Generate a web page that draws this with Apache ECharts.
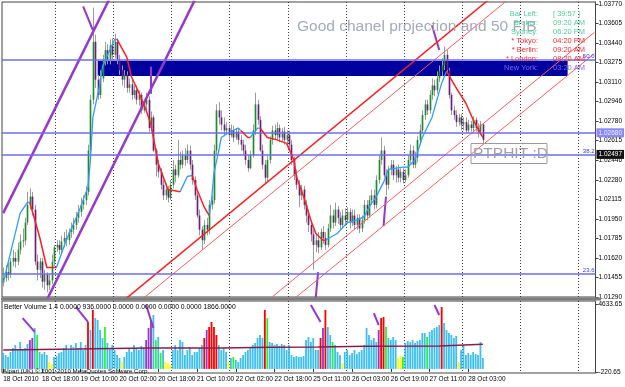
<!DOCTYPE html>
<html>
<head>
<meta charset="utf-8">
<script src="https://cdn.jsdelivr.net/npm/echarts@6/dist/echarts.min.js"></script>
<style>
html, body { margin: 0; padding: 0; background: #fff; }
#chart { width: 625px; height: 387px; }
</style>
</head>
<body>
<div id="chart"></div>
<script>
// H1 chart, 18 Oct 2010 .. 28 Oct 2010, with Better Volume sub window
const barCount = 245; // visible slots incl. empty space at the right
const timeLabels = ["18 Oct 2010", "18 Oct 18:00", "19 Oct 10:00", "20 Oct 02:00", "20 Oct 18:00", "21 Oct 10:00",
    "22 Oct 02:00", "22 Oct 18:00", "25 Oct 11:00", "26 Oct 03:00", "26 Oct 19:00", "27 Oct 11:00", "28 Oct 03:00"];
const priceTicks = [1.0129, 1.01455, 1.0162, 1.01785, 1.0195, 1.02115, 1.0228, 1.02446, 1.02615, 1.0278,
    1.02946, 1.0311, 1.03275, 1.0344, 1.03605, 1.0377];
const volTicks = [-220.65, 4633.65];

// [open, close, low, high]
const candles = [
    [1.0141,1.0145,1.0138,1.0154],[1.0145,1.0150,1.0142,1.0156],[1.0150,1.0148,1.0143,1.0158],[1.0148,1.0159,1.0145,1.0162],[1.0159,1.0162,1.0155,1.0169],
    [1.0162,1.0159,1.0154,1.0167],[1.0159,1.0169,1.0156,1.0175],[1.0169,1.0176,1.0165,1.0182],[1.0176,1.0177,1.0171,1.0187],[1.0177,1.0192,1.0173,1.0196],
    [1.0192,1.0207,1.0190,1.0218],[1.0207,1.0214,1.0203,1.0221],[1.0214,1.0203,1.0198,1.0218],[1.0203,1.0159,1.0156,1.0207],[1.0159,1.0152,1.0143,1.0165],
    [1.0152,1.0159,1.0145,1.0162],[1.0159,1.0142,1.0137,1.0162],[1.0142,1.0148,1.0135,1.0152],[1.0148,1.0139,1.0133,1.0150],[1.0139,1.0143,1.0135,1.0148],
    [1.0143,1.0159,1.0140,1.0165],[1.0159,1.0171,1.0155,1.0173],[1.0171,1.0173,1.0167,1.0177],[1.0173,1.0169,1.0165,1.0177],[1.0169,1.0176,1.0165,1.0181],
    [1.0176,1.0179,1.0171,1.0184],[1.0179,1.0177,1.0172,1.0186],[1.0177,1.0184,1.0173,1.0187],[1.0184,1.0186,1.0179,1.0192],[1.0186,1.0190,1.0182,1.0196],
    [1.0190,1.0196,1.0186,1.0201],[1.0196,1.0201,1.0192,1.0207],[1.0201,1.0207,1.0197,1.0213],[1.0207,1.0211,1.0203,1.0215],[1.0211,1.0218,1.0207,1.0223],
    [1.0218,1.0253,1.0215,1.0258],[1.0253,1.0296,1.0249,1.0300],[1.0296,1.0345,1.0292,1.0374],[1.0345,1.0313,1.0306,1.0351],[1.0313,1.0300,1.0296,1.0317],
    [1.0300,1.0314,1.0297,1.0321],[1.0314,1.0328,1.0311,1.0334],[1.0328,1.0338,1.0325,1.0345],[1.0338,1.0330,1.0326,1.0343],[1.0330,1.0342,1.0326,1.0347],
    [1.0342,1.0334,1.0330,1.0348],[1.0334,1.0345,1.0331,1.0352],[1.0345,1.0330,1.0326,1.0348],[1.0330,1.0321,1.0317,1.0334],[1.0321,1.0313,1.0308,1.0325],
    [1.0313,1.0317,1.0306,1.0321],[1.0317,1.0306,1.0302,1.0320],[1.0306,1.0309,1.0302,1.0314],[1.0309,1.0300,1.0296,1.0313],[1.0300,1.0304,1.0297,1.0308],
    [1.0304,1.0296,1.0292,1.0308],[1.0296,1.0300,1.0291,1.0304],[1.0300,1.0287,1.0284,1.0302],[1.0287,1.0292,1.0285,1.0296],[1.0292,1.0296,1.0287,1.0302],
    [1.0296,1.0272,1.0269,1.0299],[1.0272,1.0281,1.0269,1.0286],[1.0281,1.0253,1.0252,1.0283],[1.0253,1.0241,1.0231,1.0255],[1.0241,1.0235,1.0230,1.0245],
    [1.0235,1.0224,1.0220,1.0238],[1.0224,1.0215,1.0211,1.0228],[1.0215,1.0220,1.0211,1.0225],[1.0220,1.0213,1.0209,1.0223],[1.0213,1.0224,1.0211,1.0228],
    [1.0224,1.0237,1.0221,1.0245],[1.0237,1.0232,1.0226,1.0241],[1.0232,1.0245,1.0230,1.0262],[1.0245,1.0241,1.0237,1.0252],[1.0241,1.0249,1.0238,1.0253],
    [1.0249,1.0245,1.0240,1.0255],[1.0245,1.0253,1.0242,1.0258],[1.0253,1.0241,1.0237,1.0257],[1.0241,1.0228,1.0224,1.0245],[1.0228,1.0215,1.0211,1.0231],
    [1.0215,1.0198,1.0196,1.0218],[1.0198,1.0186,1.0181,1.0203],[1.0186,1.0177,1.0169,1.0189],[1.0177,1.0190,1.0174,1.0194],[1.0190,1.0186,1.0181,1.0196],
    [1.0186,1.0207,1.0182,1.0211],[1.0207,1.0211,1.0203,1.0215],[1.0211,1.0253,1.0208,1.0258],[1.0253,1.0287,1.0249,1.0292],[1.0287,1.0281,1.0275,1.0294],
    [1.0281,1.0275,1.0270,1.0287],[1.0275,1.0270,1.0265,1.0281],[1.0270,1.0272,1.0267,1.0277],[1.0272,1.0266,1.0262,1.0275],[1.0266,1.0270,1.0264,1.0275],
    [1.0270,1.0264,1.0260,1.0274],[1.0264,1.0269,1.0262,1.0272],[1.0269,1.0262,1.0258,1.0272],[1.0262,1.0258,1.0253,1.0266],[1.0258,1.0253,1.0249,1.0262],
    [1.0253,1.0245,1.0241,1.0258],[1.0245,1.0238,1.0235,1.0249],[1.0238,1.0249,1.0237,1.0253],[1.0249,1.0270,1.0247,1.0275],[1.0270,1.0292,1.0266,1.0302],
    [1.0292,1.0279,1.0275,1.0296],[1.0279,1.0253,1.0252,1.0282],[1.0253,1.0241,1.0237,1.0258],[1.0241,1.0230,1.0224,1.0245],[1.0230,1.0245,1.0226,1.0249],
    [1.0245,1.0262,1.0242,1.0265],[1.0262,1.0270,1.0258,1.0274],[1.0270,1.0266,1.0262,1.0275],[1.0266,1.0272,1.0262,1.0277],[1.0272,1.0264,1.0260,1.0275],
    [1.0264,1.0269,1.0260,1.0272],[1.0269,1.0262,1.0258,1.0273],[1.0262,1.0266,1.0257,1.0270],[1.0266,1.0258,1.0253,1.0270],[1.0258,1.0245,1.0241,1.0262],
    [1.0245,1.0232,1.0228,1.0248],[1.0232,1.0224,1.0220,1.0237],[1.0224,1.0215,1.0205,1.0228],[1.0215,1.0220,1.0211,1.0224],[1.0220,1.0207,1.0203,1.0223],
    [1.0207,1.0198,1.0192,1.0211],[1.0198,1.0190,1.0184,1.0203],[1.0190,1.0182,1.0176,1.0194],[1.0182,1.0173,1.0152,1.0186],[1.0173,1.0177,1.0167,1.0182],
    [1.0177,1.0171,1.0166,1.0184],[1.0171,1.0184,1.0169,1.0187],[1.0184,1.0179,1.0174,1.0189],[1.0179,1.0173,1.0169,1.0184],[1.0173,1.0187,1.0171,1.0191],
    [1.0187,1.0198,1.0184,1.0207],[1.0198,1.0192,1.0187,1.0203],[1.0192,1.0203,1.0189,1.0209],[1.0203,1.0196,1.0191,1.0206],[1.0196,1.0190,1.0186,1.0201],
    [1.0190,1.0198,1.0187,1.0203],[1.0198,1.0194,1.0189,1.0204],[1.0194,1.0201,1.0191,1.0205],[1.0201,1.0192,1.0187,1.0204],[1.0192,1.0198,1.0189,1.0203],
    [1.0198,1.0190,1.0186,1.0203],[1.0190,1.0196,1.0186,1.0199],[1.0196,1.0187,1.0183,1.0199],[1.0187,1.0194,1.0184,1.0198],[1.0194,1.0207,1.0191,1.0211],
    [1.0207,1.0198,1.0194,1.0211],[1.0198,1.0211,1.0196,1.0215],[1.0211,1.0215,1.0207,1.0220],[1.0215,1.0207,1.0203,1.0220],[1.0207,1.0228,1.0204,1.0232],
    [1.0228,1.0245,1.0225,1.0249],[1.0245,1.0253,1.0241,1.0264],[1.0253,1.0232,1.0230,1.0257],[1.0232,1.0224,1.0215,1.0237],[1.0224,1.0237,1.0220,1.0240],
    [1.0237,1.0241,1.0232,1.0245],[1.0241,1.0232,1.0228,1.0245],[1.0232,1.0237,1.0226,1.0240],[1.0237,1.0230,1.0226,1.0241],[1.0230,1.0235,1.0226,1.0238],
    [1.0235,1.0228,1.0225,1.0238],[1.0228,1.0232,1.0226,1.0237],[1.0232,1.0245,1.0230,1.0249],[1.0245,1.0253,1.0242,1.0258],[1.0253,1.0241,1.0238,1.0257],
    [1.0241,1.0247,1.0238,1.0252],[1.0247,1.0262,1.0243,1.0265],[1.0262,1.0270,1.0258,1.0275],[1.0270,1.0283,1.0267,1.0287],[1.0283,1.0292,1.0279,1.0296],
    [1.0292,1.0287,1.0283,1.0296],[1.0287,1.0300,1.0284,1.0304],[1.0300,1.0308,1.0296,1.0314],[1.0308,1.0304,1.0299,1.0313],[1.0304,1.0314,1.0301,1.0320],
    [1.0314,1.0320,1.0311,1.0325],[1.0320,1.0325,1.0316,1.0331],[1.0325,1.0334,1.0321,1.0341],[1.0334,1.0321,1.0318,1.0338],[1.0321,1.0300,1.0297,1.0323],
    [1.0300,1.0287,1.0283,1.0302],[1.0287,1.0283,1.0279,1.0291],[1.0283,1.0277,1.0273,1.0287],[1.0277,1.0281,1.0274,1.0284],[1.0281,1.0275,1.0270,1.0284],
    [1.0275,1.0277,1.0270,1.0281],[1.0277,1.0270,1.0268,1.0281],[1.0270,1.0275,1.0268,1.0279],[1.0275,1.0272,1.0269,1.0278],[1.0272,1.0279,1.0269,1.0282],
    [1.0279,1.0272,1.0269,1.0281],[1.0272,1.0269,1.0264,1.0276],[1.0269,1.0275,1.0266,1.0278],[1.0275,1.0262,1.0259,1.0276]
];

// moving average line, [bar, price] points, split in rising / falling pieces
const maRising = [
    [[0,1.0141],[7,1.0200],[10,1.0209],[11,1.0209]],
    [[22,1.0154],[26,1.0177],[31,1.0200],[35,1.0222],[36,1.0245],[37,1.0281],[40,1.0310],[41,1.0324],[44,1.0338],[46,1.0347],[47,1.0347]],
    [[73,1.0218],[76,1.0231],[78,1.0232]],
    [[85,1.0198],[86,1.0211],[87,1.0234],[89,1.0253],[90,1.0264],[93,1.0268],[97,1.0272],[98,1.0270]],
    [[102,1.0264],[105,1.0272],[106,1.0272]],
    [[133,1.0177],[138,1.0183],[142,1.0192],[146,1.0194],[149,1.0197],[151,1.0205],[154,1.0214],[157,1.0226],[159,1.0237],
     [165,1.0239],[167,1.0239],[170,1.0245],[173,1.0264],[177,1.0281],[181,1.0310],[183,1.0320]]
];
const maFalling = [
    [[11,1.0209],[15,1.0180],[18,1.0154],[22,1.0154]],
    [[47,1.0347],[51,1.0332],[53,1.0315],[56,1.0302],[59,1.0287],[61,1.0275],[63,1.0253],[64,1.0242],[68,1.0220],[73,1.0218]],
    [[78,1.0232],[80,1.0220],[83,1.0205],[85,1.0198]],
    [[98,1.0270],[101,1.0264],[102,1.0264]],
    [[106,1.0272],[109,1.0264],[113,1.0262],[117,1.0259],[120,1.0245],[121,1.0231],[124,1.0214],[127,1.0194],[129,1.0183],[132,1.0177],[133,1.0177]],
    [[183,1.0320],[187,1.0306],[191,1.0293],[194,1.0279],[198,1.0264]]
];

// chart objects: [bar1, price1, bar2, price2]
const purpleChannel = [[0, 1.0200, 44, 1.0382], [18, 1.01265, 79, 1.0380]];
const purpleMarks = [[33, 1.0375, 37, 1.0355], [61, 1.0324, 61, 1.0301], [177, 1.0359, 180, 1.0338],
    [130, 1.0150, 129, 1.0128], [158, 1.0214, 157, 1.0189]];
const redChannelMain = [[50, 1.01265, 200, 1.0380]];
const redChannelThin = [[57, 1.01265, 208, 1.0380], [111, 1.0129, 244, 1.0353], [121, 1.0129, 244, 1.0335]];
const boxZone = [[39, 1.03288], [233, 1.03161]];
const fibLevels = [["50.0", 1.03296], ["38.2", 1.02492], ["23.6", 1.01485]];
const bidLine = 1.02680;
const askTag = 1.02497;

// Better Volume
const volumes = [
    1140, 990, 850, 1210, 1490, 1710, 1350, 1920, 1350, 1490,
    1780, 2060, 2210, 2920, 2420, 1210, 1060, 1210, 990, 490,
    350, 850, 920, 1140, 1210, 1490, 1710, 1350, 1710, 1560,
    1850, 1490, 1920, 1350, 1710, 3350, 2780, 4210, 3630, 3490,
    2780, 2210, 2990, 1850, 1490, 1710, 1350, 990, 780, 490,
    850, 1210, 1490, 1210, 1710, 1490, 1350, 1640, 1490, 2060,
    2920, 3490, 3850, 2060, 2280, 1140, 1350, 490, 420, 280,
    1350, 1710, 1350, 2060, 1920, 990, 1350, 1560, 990, 1210,
    1210, 1490, 1710, 2210, 2780, 2990, 3350, 2990, 2420, 1710,
    1350, 1490, 1210, 490, 780, 850, 640, 490, 780, 990,
    1210, 1350, 1490, 1710, 1850, 2210, 2420, 2210, 4210, 3630,
    1920, 1850, 1710, 1780, 1640, 1780, 1710, 1350, 1710, 990,
    850, 920, 850, 850, 920, 2060, 2280, 1920, 2210, 1350,
    1350, 2210, 2920, 4210, 2990, 2420, 1920, 1710, 1210, 990,
    420, 1210, 1350, 990, 1140, 1350, 1060, 1210, 1350, 1710,
    2920, 2420, 2060, 2210, 1920, 2780, 3630, 3710, 2990, 2210,
    2060, 2280, 2060, 780, 920, 850, 1850, 1990, 1920, 2060,
    1850, 1990, 2060, 2560, 2560, 2280, 2640, 2780, 2920, 2990,
    3130, 4420, 3280, 2780, 2560, 2420, 2210, 2350, 490, 1350,
    1710, 990, 1140, 990, 1210, 1060, 990, 1920, 780
];
// n normal, l low volume, c climax, h churn, x climax churn
const volType = ("nnnnnnnnnn" + "nxxnhnnnnl" + "lnnnnnnnnn" + "nnnnncncnn" + "nnhnnnnnnl" +
    "nnnnnnnnnx" + "xxnhnhnlll" + "nnnnnnnnnn" + "nnncxccccn" + "nnnlnhnnnn" +
    "nnnnnnnnch" + "nnnnnnnnnn" + "nnnnnnnnnn" + "ncxcnnhnnn" + "lnnnnnnnnn" +
    "nnnnnxcchn" + "nnnllhnnnn" + "nnnnnhnnnn" + "ncnnnnnnln" + "nnnnnnnnn").split("");
const volAverage = [[0, 1350], [30, 1420], [60, 1500], [90, 1490], [110, 1540], [130, 1560], [150, 1620], [180, 1640], [198, 1760]];
const volMarks = [[8, 3630, 13, 2640], [30, 4420, 35, 3350], [59, 4560, 62, 2920], [127, 4560, 131, 3350],
    [153, 3990, 155, 3130], [178, 4560, 180, 3850]];

const infoRows = [["Bar Left:", "[ 39:57 ]"], ["Broker:", "09:20 AM"], ["Sydney:", "06:20 PM"], ["* Tokyo:", "04:20 PM"],
    ["* Berlin:", "09:20 AM"], ["* London:", "08:20 AM"], ["New York:", "03:20 AM"]];
const infoColors = ["#55cf98", "#55cf98", "#55cf98", "#ff2b2b", "#ff2b2b", "#ff2b2b", "#7b68ee"];

const FONT = '"Liberation Sans", Arial, sans-serif';
const volColor = { n: "#3fbff0", l: "#ffff00", c: "#ff0000", h: "#2cf52c", x: "#9538c9" };
const categories = Array.from({ length: barCount }, (_, i) => String(i));

const chart = echarts.init(document.getElementById("chart"));

function segLine(seg, color, width, grid, z) {
    return {
        type: "line", xAxisIndex: grid, yAxisIndex: grid,
        data: [[seg[0], seg[1]], [seg[2], seg[3]]],
        symbol: "none", silent: true, animation: false, z: z,
        lineStyle: { color: color, width: width }
    };
}

function renderCandle(params, api) {
    const i = api.value(0);
    const o = api.value(1), c = api.value(2), lo = api.value(3), hi = api.value(4);
    const top = api.coord([i, Math.max(o, c)]);
    const bot = api.coord([i, Math.min(o, c)]);
    const pl = api.coord([i, lo]);
    const ph = api.coord([i, hi]);
    const w = Math.max(1.4, api.size([1, 0])[0] * 0.7);
    const x = Math.round(top[0]) + 0.5;
    return {
        type: "group",
        children: [
            { type: "line", shape: { x1: x, y1: ph[1], x2: x, y2: pl[1] }, style: { stroke: "#9c9c9c", lineWidth: 1 } },
            { type: "rect", shape: { x: x - w / 2, y: top[1], width: w, height: Math.max(1, bot[1] - top[1]) },
              style: { fill: c >= o ? "#1d8c2b" : "#6b1d7d" } }
        ]
    };
}

const gridLineAt = (idx) => idx >= 22 && (idx - 22) % 24 === 0;
const labelAt = (idx) => idx % 16 === 0 && idx / 16 < timeLabels.length;

const series = [];

// candles
series.push({
    type: "custom", xAxisIndex: 0, yAxisIndex: 0, z: 2, silent: true, animation: false,
    renderItem: renderCandle,
    encode: { x: 0, y: [1, 2, 3, 4] },
    data: candles.map((d, i) => [i, d[0], d[1], d[2], d[3]])
});

const tagLabel = (value, bg, fg) => ({
    show: true, position: "end", distance: 1, formatter: value.toFixed(5), backgroundColor: bg,
    color: fg, padding: [1, 2], fontSize: 6.5, fontFamily: FONT
});

// purple channel, carries the rectangle and horizontal levels
const hostLine = segLine(purpleChannel[0], "#9439c9", 2.5, 0, 4);
hostLine.markArea = {
    silent: true,
    itemStyle: { color: "#00009e", opacity: 1 },
    data: [[{ coord: boxZone[0] }, { coord: boxZone[1] }]]
};
hostLine.markLine = {
    silent: true, symbol: ["none", "none"], animation: false, precision: 5,
    lineStyle: { color: "#6c6cf0", width: 1.5, type: "solid" },
    data: fibLevels.map(f => ({
        yAxis: f[1],
        label: { show: true, formatter: f[0], position: "insideEndTop", distance: 1, color: "#3535ff", fontSize: 6, fontFamily: FONT }
    })).concat([
        { yAxis: bidLine, label: tagLabel(bidLine, "#8a8af5", "#eeeeff") },
        { yAxis: askTag, lineStyle: { color: "rgba(0,0,0,0)", width: 0 }, label: tagLabel(askTag, "#111111", "#ffffff") }
    ])
};
series.push(hostLine);
series.push(segLine(purpleChannel[1], "#9439c9", 2.5, 0, 4));
purpleMarks.forEach(m => series.push(segLine(m, "#9439c9", 2, 0, 4)));

// red channel projection
redChannelMain.forEach(s => series.push(segLine(s, "#ff1c1c", 1.5, 0, 4)));
redChannelThin.forEach(s => series.push(segLine(s, "#ff5a5a", 1, 0, 4)));

// moving average
maRising.forEach(seg => series.push({
    type: "line", xAxisIndex: 0, yAxisIndex: 0, data: seg, symbol: "none", silent: true, animation: false, z: 5,
    lineStyle: { color: "#2f9cff", width: 1.3 }
}));
maFalling.forEach(seg => series.push({
    type: "line", xAxisIndex: 0, yAxisIndex: 0, data: seg, symbol: "none", silent: true, animation: false, z: 5,
    lineStyle: { color: "#ff1f1f", width: 1.5 }
}));

// volume
series.push({
    type: "bar", xAxisIndex: 1, yAxisIndex: 1, barWidth: "75%", silent: true, animation: false, z: 2,
    data: volumes.map((v, i) => ({ value: v, itemStyle: { color: volColor[volType[i]] } }))
});
series.push({
    type: "line", xAxisIndex: 1, yAxisIndex: 1, data: volAverage, symbol: "none", silent: true, animation: false, z: 3,
    lineStyle: { color: "#8c1c4c", width: 1.5 }
});
volMarks.forEach(m => series.push(segLine(m, "#9439c9", 2, 1, 4)));

const graphics = [
    { type: "rect", shape: { x: 1, y: 297.5, width: 600, height: 3 }, style: { fill: "#7d7d7d" }, z: 30, silent: true },
    { type: "text", x: 297, y: 27, z: 30, silent: true,
      style: { text: "Good chanel projection and 50 FIB", fill: "#a3aab8", fontSize: 15.5, fontFamily: FONT, verticalAlign: "middle" } },
    { type: "rect", shape: { x: 471, y: 143.5, width: 76, height: 20 }, style: { fill: "none", stroke: "#9a9a9a", lineWidth: 1 }, z: 30, silent: true },
    { type: "text", x: 473, y: 154, z: 30, silent: true,
      style: { text: "PTPHIT :D", fill: "#a0a0a0", fontSize: 15.5, fontFamily: FONT, verticalAlign: "middle" } },
    { type: "text", x: 4, y: 307, z: 30, silent: true,
      style: { text: "Better Volume 1.4 0.0000 936.0000 0.0000 0.0000 0.0000 0.0000 1866.0000", fill: "#000", fontSize: 6.8, fontFamily: FONT, verticalAlign: "middle" } },
    { type: "text", x: 3, y: 371, z: 30, silent: true,
      style: { text: "Alpari (UK) \u00a9 2001-2010 MetaQuotes Software Corp.", fill: "#000", fontSize: 6.2, fontFamily: FONT, verticalAlign: "middle" } }
];
infoRows.forEach((row, k) => {
    const y = 14 + k * 9;
    graphics.push({ type: "text", x: 538, y: y, z: 31, silent: true,
        style: { text: row[0], fill: infoColors[k], fontSize: 7.5, fontFamily: FONT, align: "right", verticalAlign: "middle" } });
    graphics.push({ type: "text", x: 553, y: y, z: 31, silent: true,
        style: { text: row[1], fill: infoColors[k], fontSize: 7.5, fontFamily: FONT, align: "left", verticalAlign: "middle" } });
});

const dotted = { show: true, lineStyle: { color: "#3a3a3a", type: [1, 2], width: 1 } };

const option = {
    animation: false,
    backgroundColor: "#fff",
    grid: [
        { left: 2, top: 2, width: 599, height: 295, show: true, borderColor: "#444", borderWidth: 1 },
        { left: 2, top: 301, width: 599, height: 72, show: true, borderColor: "#444", borderWidth: 1 }
    ],
    xAxis: [
        { type: "category", gridIndex: 0, data: categories, boundaryGap: true,
          axisLine: { show: false }, axisTick: { show: false }, axisLabel: { show: false },
          splitLine: Object.assign({ interval: gridLineAt }, dotted) },
        { type: "category", gridIndex: 1, data: categories, boundaryGap: true,
          axisLine: { show: false },
          axisTick: { show: true, interval: labelAt, alignWithLabel: true, length: 3, lineStyle: { color: "#333" } },
          axisLabel: { show: true, interval: labelAt, formatter: (v, i) => timeLabels[i / 16], align: "left",
                       fontSize: 6.5, color: "#000", margin: 3, fontFamily: FONT },
          splitLine: Object.assign({ interval: gridLineAt }, dotted) }
    ],
    yAxis: [
        { type: "value", gridIndex: 0, position: "right", min: 1.0129, max: 1.03787,
          splitLine: { show: false },
          axisLine: { show: true, lineStyle: { color: "#444" } },
          axisTick: { show: true, length: 3, customValues: priceTicks, lineStyle: { color: "#444" } },
          axisLabel: { customValues: priceTicks, formatter: v => v.toFixed(5), fontSize: 6.5, color: "#000", margin: 3, fontFamily: FONT } },
        { type: "value", gridIndex: 1, position: "right", min: -292, max: 4848,
          splitLine: { show: false },
          axisLine: { show: true, lineStyle: { color: "#444" } },
          axisTick: { show: true, length: 3, customValues: volTicks, lineStyle: { color: "#444" } },
          axisLabel: { customValues: volTicks, formatter: v => v.toFixed(2), fontSize: 6.5, color: "#000", margin: 3, fontFamily: FONT } }
    ],
    graphic: graphics,
    series: series
};

chart.setOption(option);
</script>
</body>
</html>
